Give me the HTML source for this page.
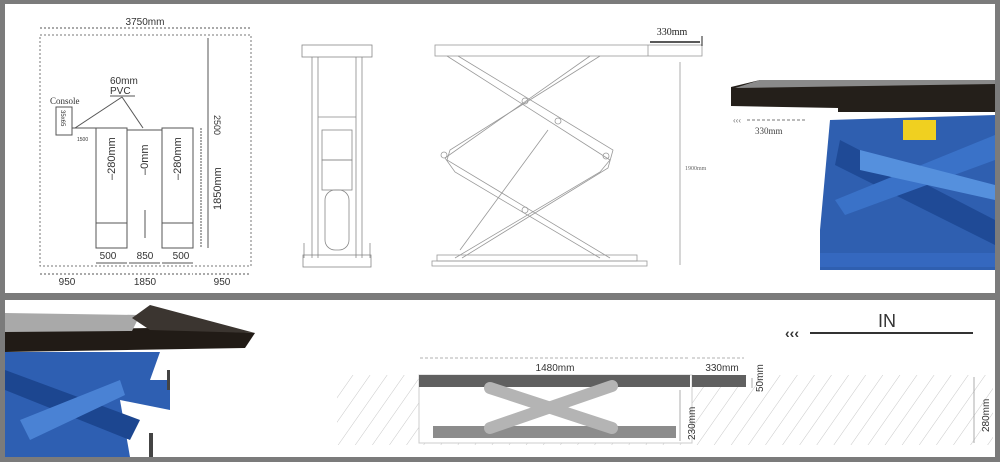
<!DOCTYPE html>
<html><head><meta charset="utf-8"><style>
html,body{margin:0;padding:0;background:#7b7b7b;}
svg{display:block;font-family:"Liberation Sans",sans-serif;}
</style></head><body>
<svg width="1000" height="462" viewBox="0 0 1000 462" xmlns="http://www.w3.org/2000/svg">
<defs>
<pattern id="h" width="14" height="14" patternUnits="userSpaceOnUse" patternTransform="rotate(35)">
<line x1="0" y1="0" x2="0" y2="14" stroke="#c8c8c8" stroke-width="1"/>
</pattern>
</defs>
<rect x="0" y="0" width="1000" height="462" fill="#7b7b7b"/>
<rect x="5" y="4" width="990" height="289" fill="#fff"/>
<rect x="5" y="300" width="990" height="157" fill="#fff"/>

<!-- left plan -->
<g stroke="#555" fill="none" font-size="10">
<rect x="40" y="35" width="211" height="231" stroke-dasharray="2,2" stroke="#777"/>
<line x1="40" y1="28" x2="251" y2="28" stroke-dasharray="2,2"/>
<rect x="56" y="107" width="16" height="28"/>
<line x1="72" y1="128" x2="96" y2="128"/>
<line x1="127" y1="130" x2="162" y2="130"/>
<line x1="75" y1="128" x2="122" y2="97"/><line x1="122" y1="97" x2="143" y2="128"/>
<line x1="110" y1="96" x2="135" y2="96"/>
<rect x="96" y="128" width="31" height="120"/>
<rect x="162" y="128" width="31" height="120"/>
<line x1="96" y1="223" x2="127" y2="223"/><line x1="162" y1="223" x2="193" y2="223"/>
<line x1="145" y1="210" x2="145" y2="238"/>
<line x1="208" y1="38" x2="208" y2="248"/>
<line x1="201" y1="128" x2="201" y2="248" stroke-dasharray="2,1"/>
<line x1="96" y1="263" x2="127" y2="263"/><line x1="129" y1="263" x2="160" y2="263"/><line x1="162" y1="263" x2="193" y2="263"/>
<line x1="40" y1="274" x2="94" y2="274" stroke-dasharray="2,2"/><line x1="96" y1="274" x2="193" y2="274" stroke-dasharray="2,2"/><line x1="195" y1="274" x2="251" y2="274" stroke-dasharray="2,2"/>
</g>
<g fill="#333" font-size="10">
<text x="145" y="25" text-anchor="middle">3750mm</text>
<text x="110" y="84">60mm</text><text x="110" y="94">PVC</text>
<text x="50" y="104" font-family="Liberation Serif" font-size="9">Console</text>
<text x="108" y="259" text-anchor="middle">500</text><text x="145" y="259" text-anchor="middle">850</text><text x="181" y="259" text-anchor="middle">500</text>
<text x="67" y="285" text-anchor="middle">950</text><text x="145" y="285" text-anchor="middle">1850</text><text x="222" y="285" text-anchor="middle">950</text>
<text transform="translate(115,180) rotate(-90)" font-size="11">–280mm</text>
<text transform="translate(148,175) rotate(-90)" font-size="11">–0mm</text>
<text transform="translate(181,180) rotate(-90)" font-size="11">–280mm</text>
<text transform="translate(214,115) rotate(90)" font-size="9">2500</text>
<text transform="translate(221,210) rotate(-90)" font-size="11">1850mm</text>
<text transform="translate(61,110) rotate(90)" font-size="6">35x65</text>
<text x="77" y="141" font-size="5">1500</text>
</g>

<!-- front view -->
<g stroke="#888" fill="none" stroke-width="0.8">
<rect x="302" y="45" width="70" height="12"/>
<line x1="312" y1="57" x2="312" y2="258"/><line x1="318" y1="57" x2="318" y2="258"/>
<line x1="356" y1="57" x2="356" y2="258"/><line x1="362" y1="57" x2="362" y2="258"/>
<rect x="322" y="130" width="30" height="30"/><rect x="322" y="160" width="30" height="30"/>
<rect x="325" y="190" width="24" height="60" rx="10"/>
<line x1="318" y1="117" x2="356" y2="117"/>
<rect x="303" y="255" width="68" height="12"/>
<line x1="304" y1="243" x2="304" y2="258"/><line x1="370" y1="243" x2="370" y2="258"/>
</g>

<!-- side view -->
<g stroke="#999" fill="none" stroke-width="0.8">
<rect x="435" y="45" width="267" height="11"/>
<line x1="648" y1="45" x2="648" y2="56"/>
<path d="M447 56 L610 160 L600 172 L455 258"/>
<path d="M600 56 L450 150 L447 160 L610 258"/>
<path d="M458 56 L613 150 L608 168 L462 258"/>
<path d="M590 56 L445 158 L455 172 L600 258"/>
<line x1="460" y1="250" x2="548" y2="130"/>
<rect x="437" y="255" width="200" height="6"/>
<rect x="432" y="261" width="215" height="5"/>
<line x1="680" y1="62" x2="680" y2="265"/>
<circle cx="525" cy="101" r="3"/><circle cx="525" cy="210" r="3"/><circle cx="444" cy="155" r="3"/><circle cx="606" cy="156" r="3"/><circle cx="558" cy="121" r="3"/>
</g>
<line x1="650" y1="42" x2="700" y2="42" stroke="#222" stroke-width="1.5"/>
<line x1="702" y1="36" x2="702" y2="46" stroke="#222"/>
<text x="672" y="35" font-family="Liberation Serif" font-size="10" fill="#222" text-anchor="middle">330mm</text>
<text x="685" y="170" font-family="Liberation Serif" font-size="6" fill="#666">1900mm</text>

<!-- right photo -->
<g>
<path d="M830 120 L995 115 L995 270 L820 270 L820 230 Z" fill="#2f5fb0"/>
<path d="M840 140 L995 220 L995 245 L835 165 Z" fill="#1f4a96"/>
<path d="M835 200 L995 135 L995 160 L845 215 Z" fill="#3a72c8"/>
<path d="M860 150 L995 185 L995 200 L860 170 Z" fill="#5590dd"/>
<rect x="820" y="253" width="175" height="14" fill="#3568bf"/>
<path d="M731 87 L760 80 L995 80 L995 112 L838 112 L838 108 L731 106 Z" fill="#241f1a"/>
<path d="M760 80 L995 80 L995 84 L735 88 Z" fill="#8a8a8a"/>
<rect x="903" y="120" width="33" height="20" fill="#f0d020"/>
<line x1="747" y1="120" x2="806" y2="120" stroke="#777" stroke-dasharray="3,2"/>
<text x="733" y="123" font-size="8" fill="#777">‹‹‹</text>
<text x="755" y="134" font-family="Liberation Serif" font-size="9" fill="#444">330mm</text>
</g>

<!-- bottom-left photo -->
<g>
<path d="M5 352 L160 352 L150 380 L170 380 L170 410 L120 400 L130 457 L5 457 Z" fill="#2e5fb2"/>
<path d="M5 370 L140 420 L130 440 L5 390 Z" fill="#1c4690"/>
<path d="M20 420 L120 380 L125 395 L30 440 Z" fill="#4a82d4"/>
<path d="M5 330 L5 352 L245 348 L255 333 L150 328 Z" fill="#211b16"/>
<path d="M5 313 L140 315 L132 331 L5 332 Z" fill="#a9a9a9"/>
<path d="M132 318 L150 305 L255 333 L150 330 Z" fill="#3b3530"/>
<rect x="167" y="370" width="3" height="20" fill="#444"/>
<rect x="149" y="433" width="4" height="24" fill="#444"/>
</g>

<!-- bottom-right section -->
<rect x="337" y="375" width="656" height="70" fill="url(#h)"/>
<rect x="419" y="375" width="273" height="68" fill="#fff" stroke="#ccc"/>
<rect x="419" y="375" width="271" height="12" fill="#606060"/>
<rect x="692" y="375" width="54" height="12" fill="#606060"/>
<rect x="433" y="426" width="243" height="12" fill="#8c8c8c"/>
<line x1="490" y1="388" x2="612" y2="428" stroke="#b4b4b4" stroke-width="12" stroke-linecap="round"/>
<line x1="490" y1="428" x2="612" y2="386" stroke="#b4b4b4" stroke-width="12" stroke-linecap="round"/>
<g stroke="#999" stroke-width="0.8">
<line x1="420" y1="358" x2="688" y2="358" stroke-dasharray="3,2"/>
<line x1="692" y1="358" x2="744" y2="358" stroke-dasharray="3,2"/>
<line x1="680" y1="390" x2="680" y2="441"/>
<line x1="752" y1="378" x2="752" y2="388"/>
<line x1="974" y1="377" x2="974" y2="443"/>
</g>
<g fill="#333" font-size="10">
<text x="555" y="371" text-anchor="middle">1480mm</text>
<text x="722" y="371" text-anchor="middle">330mm</text>
<text transform="translate(763,392) rotate(-90)">50mm</text>
<text transform="translate(695,440) rotate(-90)">230mm</text>
<text transform="translate(989,432) rotate(-90)">280mm</text>
</g>
<line x1="810" y1="333" x2="973" y2="333" stroke="#333" stroke-width="2"/>
<text x="785" y="338" font-size="14" font-weight="bold" fill="#333">‹‹‹</text>
<text x="878" y="327" font-size="18" fill="#333">IN</text>
</svg>
</body></html>
